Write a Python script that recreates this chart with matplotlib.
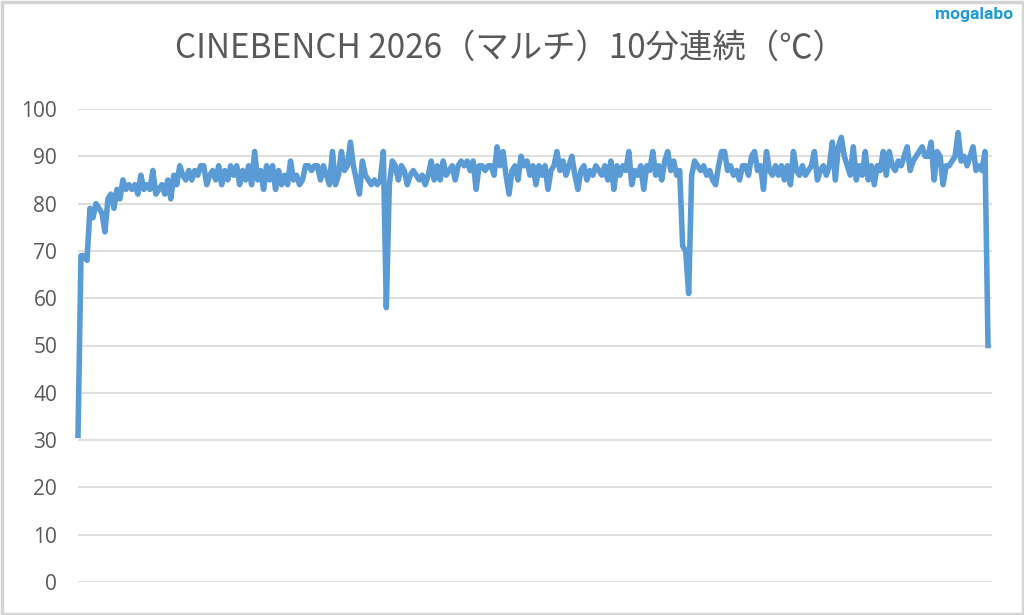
import matplotlib
matplotlib.use("Agg")
import matplotlib.pyplot as plt
from matplotlib.patches import Rectangle

title = "CINEBENCH 2026（マルチ）10分連続（℃）"
watermark = "mogalabo"
yticks = [0, 10, 20, 30, 40, 50, 60, 70, 80, 90, 100]

seg1 = [31, 69, 69, 68, 79, 77, 80, 79, 78, 74, 81, 82, 79, 83, 81, 85, 83, 84, 83, 84,
        82, 86, 83, 84, 83, 87, 82, 83, 84, 82, 85, 81, 86, 84, 88, 86, 85, 87, 85, 87,
        86, 88, 88, 84, 86, 87, 85, 88, 84, 87, 85, 88]
seg2 = [86, 88, 84, 87, 85, 88, 84, 91, 85, 87, 83, 88, 85, 88, 83, 87, 84, 86, 84, 89,
        85, 86, 84, 85, 88, 88, 87, 88, 88, 85, 88, 86, 84, 91, 84, 86, 91, 87, 88, 93,
        88, 85, 82, 89, 86, 85, 84, 85, 84, 85, 91, 58, 84]
seg3 = [89, 88, 85, 88, 87, 84, 86, 87, 86, 85, 86, 84, 86, 89, 85, 88, 85, 89, 86, 87,
        88, 85, 88, 89, 88, 89, 87, 89, 83, 88, 88, 87, 88, 88, 86, 92, 88, 91, 86, 82,
        87, 88, 85, 90, 88, 89, 86, 88, 84]
seg4 = [88, 86, 88, 83, 87, 88, 91, 87, 89, 86, 88, 90, 86, 83, 87, 88, 85, 87, 86, 88,
        87, 86, 88, 85, 89, 83, 88, 86, 88, 87, 91, 84, 87, 86, 88, 83, 88, 87, 91, 86,
        88, 85, 89, 91, 87, 89, 86, 87, 71, 70, 61, 86, 89]
seg5 = [88, 87, 88, 86, 87, 85, 84, 88, 91, 91, 87, 88, 86, 87, 85, 88, 88, 86, 90, 91,
        87, 88, 83, 91, 87, 86, 88, 86, 88, 85, 88, 84, 91, 87, 86, 88, 86, 87, 88, 91,
        85, 87, 88, 86, 88, 93, 85, 92, 94, 90]
seg6 = [88, 86, 92, 85, 88, 86, 91, 85, 88, 84, 88, 87, 91, 86, 91, 88, 87, 89, 88, 90,
        92, 87, 89, 90, 91, 92, 90, 90, 93, 85, 91, 90, 84, 88, 88, 89, 90, 95, 89, 90,
        88, 90, 92, 87, 88, 87, 91, 50]
temps = seg1 + seg2 + seg3 + seg4 + seg5 + seg6

W, H = 1024, 615
fig = plt.figure(figsize=(W / 100, H / 100), dpi=100)
fig.patch.set_facecolor("white")

fig.patches.append(Rectangle((1.5 / W, 1.5 / H), 1 - 3 / W, 1 - 3 / H, transform=fig.transFigure,
                             fill=False, edgecolor="#d4d4d4", linewidth=2.5))

left, right, top, bottom = 78, 992, 109, 582
ax = fig.add_axes([left / W, 1 - bottom / H, (right - left) / W, (bottom - top) / H])
n = len(temps)
xs = list(range(n))
ax.plot(xs, temps, color="#5B9BD5", linewidth=4.0, solid_joinstyle="round", clip_on=False, zorder=3)
ax.set_xlim(0, (n - 1) * (right - left) / (988 - left))
ax.set_ylim(0, 100)
ax.set_yticks(yticks)
ax.set_yticklabels([str(v) for v in yticks], fontsize=15, color="#595959", family=["Open Sans", "DejaVu Sans"])
ax.tick_params(axis="y", length=0, pad=15)
ax.set_xticks([])
for s in ax.spines.values():
    s.set_visible(False)
ax.grid(axis="y", color="#d9d9d9", linewidth=1.2)
ax.set_axisbelow(True)

fig.text(510 / W, 1 - 48 / H, title, ha="center", va="center", fontsize=24, color="#595959",
         family=["Noto Sans CJK JP", "DejaVu Sans"])
fig.text(1013 / W, 1 - 14 / H, watermark, ha="right", va="center", fontsize=12.5, color="#1f9ad8",
         fontweight="bold", family=["Roboto", "DejaVu Sans"])

fig.savefig("out.png", dpi=100, facecolor="white")
